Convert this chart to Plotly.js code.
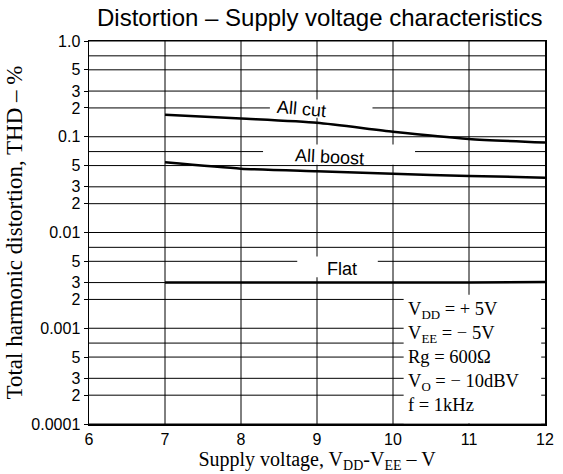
<!DOCTYPE html>
<html><head><meta charset="utf-8">
<script src="https://cdn.plot.ly/plotly-3.0.1.min.js"></script>
<style>body{margin:0;background:#fff}</style></head>
<body><div id="chart" style="width:563px;height:474px"></div>
<script>
const voltage = [7, 8, 9, 10, 11, 12];
const allCut = [0.170, 0.155, 0.140, 0.113, 0.095, 0.087];
const allBoost = [0.054, 0.0464, 0.0435, 0.041, 0.039, 0.0374];
const flat = [0.0030, 0.0030, 0.0030, 0.0030, 0.0030, 0.00305];
const yTickVals = [1, 0.5, 0.3, 0.2, 0.1, 0.05, 0.03, 0.02, 0.01, 0.005, 0.003, 0.002, 0.001, 0.0005, 0.0003, 0.0002, 0.0001];
const yTickText = ["1.0", "5", "3", "2", "0.1", "5", "3", "2", "0.01", "5", "3", "2", "0.001", "5", "3", "2", "0.0001"];
const yMinorVals = [0.7, 0.07, 0.007, 0.0007];
const xTickVals = [6, 7, 8, 9, 10, 11, 12];
const seriesNames = ["All cut", "All boost", "Flat"];
const labelX = [8.8, 9.17, 9.33];
const labelY = [0.195, 0.062, 0.00415];
const conditions = "V<sub>DD</sub> = + 5V<br>V<sub>EE</sub> = \u2212 5V<br>Rg = 600\u03a9<br>V<sub>O</sub> = \u2212 10dBV<br>f = 1kHz";

const lineStyle = {color: "#000", width: 2.5, shape: "spline", smoothing: 0.6};
const traces = [allCut, allBoost, flat].map((ys, i) => ({
  x: voltage, y: ys, type: "scatter", mode: "lines", name: seriesNames[i], line: lineStyle, hoverinfo: "skip"
}));

const labelAngles = [5, 3, 0];
const labelFont = {family: "Liberation Sans, Arial, sans-serif", size: 18, color: "#000"};
const annotations = seriesNames.map((n, i) => ({
  x: labelX[i], y: Math.log10(labelY[i]), xref: "x", yref: "y", text: n, showarrow: false,
  font: labelFont, textangle: labelAngles[i]
}));
annotations.push({
  x: 10.17, y: -3.30, xref: "x", yref: "y", xanchor: "left", yanchor: "middle",
  text: conditions, showarrow: false, align: "left",
  font: {family: "Liberation Serif, Times New Roman, serif", size: 18.5, color: "#000"}
});

// grid drawn as shapes (from the tick arrays) so that white masks can break it behind the labels
const gridLine = {color: "#000", width: 1};
const shapes = [];
xTickVals.slice(1, -1).forEach(v => shapes.push({type: "line", xref: "x", yref: "paper", x0: v, x1: v, y0: 0, y1: 1, line: gridLine, layer: "below"}));
yTickVals.concat(yMinorVals).forEach(v => shapes.push({type: "line", xref: "paper", yref: "y", x0: 0, x1: 1, y0: v, y1: v, line: gridLine, layer: "below"}));
const masks = [
  [8.38, 9.73, 0.245, 0.158],
  [8.29, 10.29, 0.083, 0.051],
  [8.74, 9.80, 0.0056, 0.0034],
  [10.14, 11.95, 0.00224, 0.000102]
];
masks.forEach(m => shapes.push({
  type: "rect", xref: "x", yref: "y", x0: m[0], x1: m[1], y0: m[2], y1: m[3],
  fillcolor: "#fff", line: {width: 0}, layer: "below"
}));

const tickFont = {family: "Liberation Sans, Arial, sans-serif", size: 16, color: "#000"};
const serif = "Liberation Serif, Times New Roman, serif";
const layout = {
  width: 563, height: 474,
  margin: {l: 89, r: 18, t: 41, b: 50},
  paper_bgcolor: "#fff", plot_bgcolor: "#fff",
  showlegend: false,
  title: {text: "Distortion \u2013 Supply voltage characteristics", x: 0.568, xref: "container", y: 0.962, yref: "container", yanchor: "middle", xanchor: "center",
    font: {family: "Liberation Sans, Arial, sans-serif", size: 24, color: "#000"}},
  xaxis: {range: [6, 12], tickvals: xTickVals, showgrid: false,
    showline: true, linecolor: "#000", linewidth: 1.5, mirror: true, zeroline: false, ticks: "",
    tickfont: tickFont,
    title: {text: "Supply voltage, V<sub>DD</sub>-V<sub>EE</sub> \u2013 V", standoff: 4,
      font: {family: serif, size: 20, color: "#000"}}},
  yaxis: {type: "log", range: [-4, 0], tickvals: yTickVals, ticktext: yTickText, showgrid: false,
    showline: true, linecolor: "#000", linewidth: 1.5, mirror: true, zeroline: false, ticks: "outside", ticklen: 4, tickcolor: "#000",
    tickfont: tickFont,
    title: {text: "Total harmonic distortion, THD \u2013 %", standoff: 2,
      font: {family: serif, size: 23, color: "#000"}}},
  shapes: shapes,
  annotations: annotations
};
Plotly.newPlot("chart", traces, layout, {staticPlot: true, displayModeBar: false});
</script></body></html>
